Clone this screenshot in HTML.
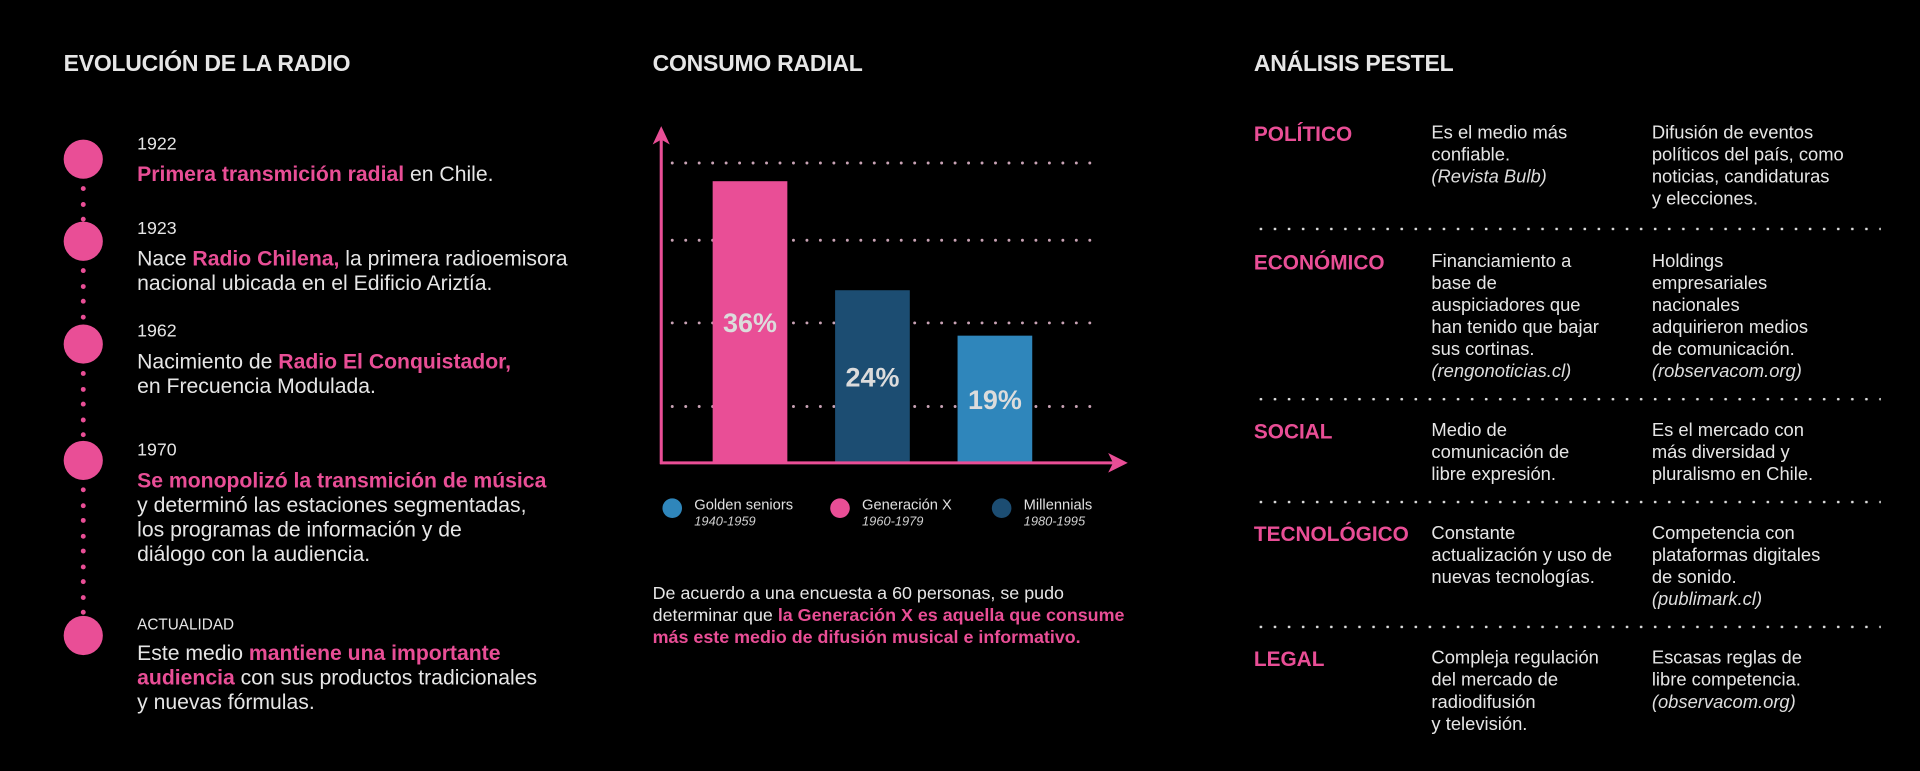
<!DOCTYPE html>
<html><head><meta charset="utf-8">
<style>
html,body{margin:0;padding:0;background:#000;overflow:hidden}
#root{position:absolute;left:0;top:0;width:1568px;height:630px;transform:scale(1.2244898);transform-origin:0 0;font-family:"Liberation Sans",sans-serif;color:#e6e6e6}
.abs{position:absolute}
h2{position:absolute;margin:0;font-size:18.8px;font-weight:bold;color:#e6e6e6;letter-spacing:-0.2px}
.pk{color:#e94e96;font-weight:bold}
.yr{font-size:14.5px;color:#e6e6e6}
.tb{font-size:17.3px;line-height:20px}
.circ{position:absolute;width:32px;height:32px;border-radius:50%;background:#e94e96;left:52px}
.dot{position:absolute;width:4px;height:4px;border-radius:50%;background:#e94e96;left:66px}
.ph{position:absolute;left:1024px;font-size:17px;font-weight:bold;color:#e94e96}
.pc{position:absolute;font-size:15px;line-height:18px}
.pc i{color:#ddd}
.sep{position:absolute;left:1024px;width:512px;height:2px;background-image:radial-gradient(circle,#ddd 1px,transparent 1.3px);background-size:11.5px 2px}
</style></head><body>
<div id="root">
<h2 style="left:52px;top:41px">EVOLUCIÓN DE LA RADIO</h2>
<h2 style="left:533px;top:41px">CONSUMO RADIAL</h2>
<h2 style="left:1024px;top:41px">ANÁLISIS PESTEL</h2>

<div>
<div class="circ" style="top:114px"></div>
<div class="circ" style="top:181px"></div>
<div class="circ" style="top:265px"></div>
<div class="circ" style="top:360px"></div>
<div class="circ" style="top:503px"></div>
<div id="dots"></div>
<div class="abs" style="left:112px;top:110px"><div class="yr">1922</div><div class="tb" style="margin-top:6px"><span class="pk">Primera transmición radial</span> en Chile.</div></div>
<div class="abs" style="left:112px;top:179px"><div class="yr">1923</div><div class="tb" style="margin-top:6px">Nace <span class="pk">Radio Chilena,</span> la primera radioemisora<br>nacional ubicada en el Edificio Ariztía.</div></div>
<div class="abs" style="left:112px;top:263px"><div class="yr">1962</div><div class="tb" style="margin-top:6px">Nacimiento de <span class="pk">Radio El Conquistador,</span><br>en Frecuencia Modulada.</div></div>
<div class="abs" style="left:112px;top:360px"><div class="yr">1970</div><div class="tb" style="margin-top:6px"><span class="pk">Se monopolizó la transmición de música</span><br>y determinó las estaciones segmentadas,<br>los programas de información y de<br>diálogo con la audiencia.</div></div>
<div class="abs" style="left:112px;top:503px"><div class="yr" style="font-size:12.5px">ACTUALIDAD</div><div class="tb" style="margin-top:6px">Este medio <span class="pk">mantiene una importante<br>audiencia</span> con sus productos tradicionales<br>y nuevas fórmulas.</div></div>
</div>

<svg class="abs" style="left:0;top:0" width="1568" height="630" id="chart"></svg>
<div class="abs" style="left:533px;top:476px;font-size:14.6px;line-height:18px">De acuerdo a una encuesta a 60 personas, se pudo<br>determinar que <span class="pk">la Generación X es aquella que consume<br>más este medio de difusión musical e informativo.</span></div>

<div>
<div class="ph" style="top:100px">POLÍTICO</div>
<div class="pc" style="left:1169px;top:100px">Es el medio más<br>confiable.<br><i>(Revista Bulb)</i></div>
<div class="pc" style="left:1349px;top:100px">Difusión de eventos<br>políticos del país, como<br>noticias, candidaturas<br>y elecciones.</div>
<div class="sep" style="top:186px"></div>
<div class="ph" style="top:205px">ECONÓMICO</div>
<div class="pc" style="left:1169px;top:205px">Financiamiento a<br>base de<br>auspiciadores que<br>han tenido que bajar<br>sus cortinas.<br><i>(rengonoticias.cl)</i></div>
<div class="pc" style="left:1349px;top:205px">Holdings<br>empresariales<br>nacionales<br>adquirieron medios<br>de comunicación.<br><i>(robservacom.org)</i></div>
<div class="sep" style="top:325px"></div>
<div class="ph" style="top:343px">SOCIAL</div>
<div class="pc" style="left:1169px;top:343px">Medio de<br>comunicación de<br>libre expresión.</div>
<div class="pc" style="left:1349px;top:343px">Es el mercado con<br>más diversidad y<br>pluralismo en Chile.</div>
<div class="sep" style="top:409px"></div>
<div class="ph" style="top:427px">TECNOLÓGICO</div>
<div class="pc" style="left:1169px;top:427px">Constante<br>actualización y uso de<br>nuevas tecnologías.</div>
<div class="pc" style="left:1349px;top:427px">Competencia con<br>plataformas digitales<br>de sonido.<br><i>(publimark.cl)</i></div>
<div class="sep" style="top:511px"></div>
<div class="ph" style="top:529px">LEGAL</div>
<div class="pc" style="left:1169px;top:529px">Compleja regulación<br>del mercado de<br>radiodifusión<br>y televisión.</div>
<div class="pc" style="left:1349px;top:529px">Escasas reglas de<br>libre competencia.<br><i>(observacom.org)</i></div>
</div>
</div>
<script>
const categories = ["Generación X","Millennials","Golden seniors"];
const values = [36, 24, 19];
const barColors = ["#e94e96","#1c4d72","#2f86bb"];
const legendNames = ["Golden seniors","Generación X","Millennials"];
const legendYears = ["1940-1959","1960-1979","1980-1995"];
const legendColors = ["#2f86bb","#e94e96","#1c4d72"];
const gridValues = [11.2, 20.4, 29.5, 38];

const NS="http://www.w3.org/2000/svg";
const svg=document.getElementById('chart');
const baseY=378, vMin=5, pxPer=7.42;
function yScale(v){return baseY-(v-vMin)*pxPer;}
function xScale(i){return 582+i*100;}
const barW=61;
function mk(tag,attrs){const e=document.createElementNS(NS,tag);for(const k in attrs)e.setAttribute(k,attrs[k]);svg.appendChild(e);return e;}
gridValues.forEach(g=>{
  const l=mk('line',{x1:549,x2:897,y1:yScale(g),y2:yScale(g),stroke:'#c9a3b5','stroke-width':2.4,'stroke-dasharray':'0 11','stroke-linecap':'round'});
  
  
});
values.forEach((v,i)=>{
  const r=mk('rect',{x:xScale(i),y:yScale(v),width:barW,height:baseY-yScale(v),fill:barColors[i]});
  
  
  const t=mk('text',{x:xScale(i)+barW/2,y:(yScale(v)+baseY)/2+8,'text-anchor':'middle','font-size':22,'font-weight':'bold',fill:'#dcdcdc','font-family':'Liberation Sans, sans-serif'});
  t.textContent=v+'%';
  
  
});
const ya=mk('line',{x1:540,x2:540,y1:112,y2:379,stroke:'#e94e96','stroke-width':2.5});


const yh=mk('polygon',{points:'540,103 533,118 540,114 547,118',fill:'#e94e96'});


const xa=mk('line',{x1:539,x2:912,y1:378,y2:378,stroke:'#e94e96','stroke-width':2.5});


const xh=mk('polygon',{points:'921,378 905,370 909,378 905,386',fill:'#e94e96'});


legendNames.forEach((n,i)=>{
  const cx=[549,686,818][i];
  const c=mk('circle',{cx:cx,cy:415,r:8,fill:legendColors[i]});
  
  
  const t=mk('text',{x:cx+18,y:416,'font-size':12,fill:'#e0e0e0','font-family':'Liberation Sans, sans-serif'});
  t.textContent=n;
  
  
  const t2=mk('text',{x:cx+18,y:429,'font-size':10.5,'font-style':'italic',fill:'#d0d0d0','font-family':'Liberation Sans, sans-serif'});
  t2.textContent=legendYears[i];
  
  
});
const dots=document.getElementById('dots');
[[148,181],[215,265],[299,360],[394,503]].forEach(([a,b])=>{
  for(let y=a+4;y<b-2;y+=12.5){
    const d=document.createElement('div');
    d.className='dot';d.style.top=y+'px';
    
    
    dots.appendChild(d);
  }
});
</script>
</body></html>
